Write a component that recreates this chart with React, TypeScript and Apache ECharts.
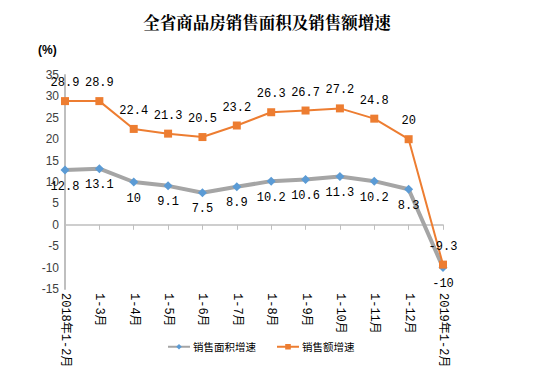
import React, { useEffect, useRef } from "react";
import * as echarts from "echarts";

const categories = ["2018年1-2月", "1-3月", "1-4月", "1-5月", "1-6月", "1-7月", "1-8月", "1-9月", "1-10月", "1-11月", "1-12月", "2019年1-2月"];
const areaGrowth = [12.8, 13.1, 10, 9.1, 7.5, 8.9, 10.2, 10.6, 11.3, 10.2, 8.3, -10];
const salesGrowth = [28.9, 28.9, 22.4, 21.3, 20.5, 23.2, 26.3, 26.7, 27.2, 24.8, 20, -9.3];

export default function App() {
  const ref = useRef<HTMLDivElement>(null);
  useEffect(() => {
    const chart = echarts.init(ref.current!, null, { renderer: "svg" });
    const labelFont = "'Liberation Mono', 'Noto Sans CJK SC', monospace";
    chart.setOption({
      animation: false,
      backgroundColor: "#fff",
      title: {
        text: "全省商品房销售面积及销售额增速",
        left: 262,
        textAlign: "center",
        top: 9,
        textStyle: { fontFamily: "'Noto Serif CJK SC', 'Noto Sans CJK SC', serif", fontSize: 16.5, fontWeight: "bold", color: "#000" },
      },
      graphic: [
        { type: "text", left: 38, top: 44, style: { text: "(%)", font: "bold 12px 'Liberation Sans', Arial, sans-serif", fill: "#000" } },
      ],
      legend: {
        bottom: 19,
        left: 162,
        itemGap: 20,
        itemWidth: 22,
        itemHeight: 7,
        textStyle: { fontFamily: "'Noto Sans CJK SC', sans-serif", fontSize: 10.5, color: "#000", padding: [0, 0, 0, -2] },
        data: ["销售面积增速", "销售额增速"],
      },
      grid: { left: 65, right: 107, top: 75, bottom: 87 },
      xAxis: {
        type: "category",
        data: categories,
        boundaryGap: false,
        axisLine: { lineStyle: { color: "#bfbfbf", width: 1.5 } },
        axisTick: { show: true, alignWithLabel: true, length: 5, lineStyle: { color: "#bfbfbf" } },
        axisLabel: {
          rotate: -90,
          interval: 0,
          margin: 4,
          color: "#000",
          fontSize: 12,
          fontFamily: labelFont,
        },
      },
      yAxis: {
        type: "value",
        min: -15,
        max: 35,
        interval: 5,
        axisLine: { show: true, lineStyle: { color: "#bfbfbf", width: 2 } },
        axisTick: { show: false },
        splitLine: { show: false },
        axisLabel: { color: "#404040", fontSize: 12, fontFamily: "'Liberation Sans', Arial, sans-serif", margin: 6 },
      },
      series: [
        {
          name: "销售面积增速",
          type: "line",
          data: areaGrowth,
          lineStyle: { color: "#a5a5a5", width: 4 },
          itemStyle: { color: "#5b9bd5" },
          symbol: "diamond",
          symbolSize: 9,
          label: { show: true, position: "bottom", distance: 6, color: "#000", fontSize: 12, fontFamily: labelFont },
          z: 2,
        },
        {
          name: "销售额增速",
          type: "line",
          data: salesGrowth,
          lineStyle: { color: "#ed7d31", width: 2 },
          itemStyle: { color: "#ed7d31" },
          symbol: "rect",
          symbolSize: 8,
          label: { show: true, position: "top", distance: 8, color: "#000", fontSize: 12, fontFamily: labelFont },
          z: 3,
        },
      ],
    });
    return () => chart.dispose();
  }, []);
  return <div ref={ref} style={{ width: 550, height: 376, position: "absolute", left: 0, top: 0 }} />;
}
